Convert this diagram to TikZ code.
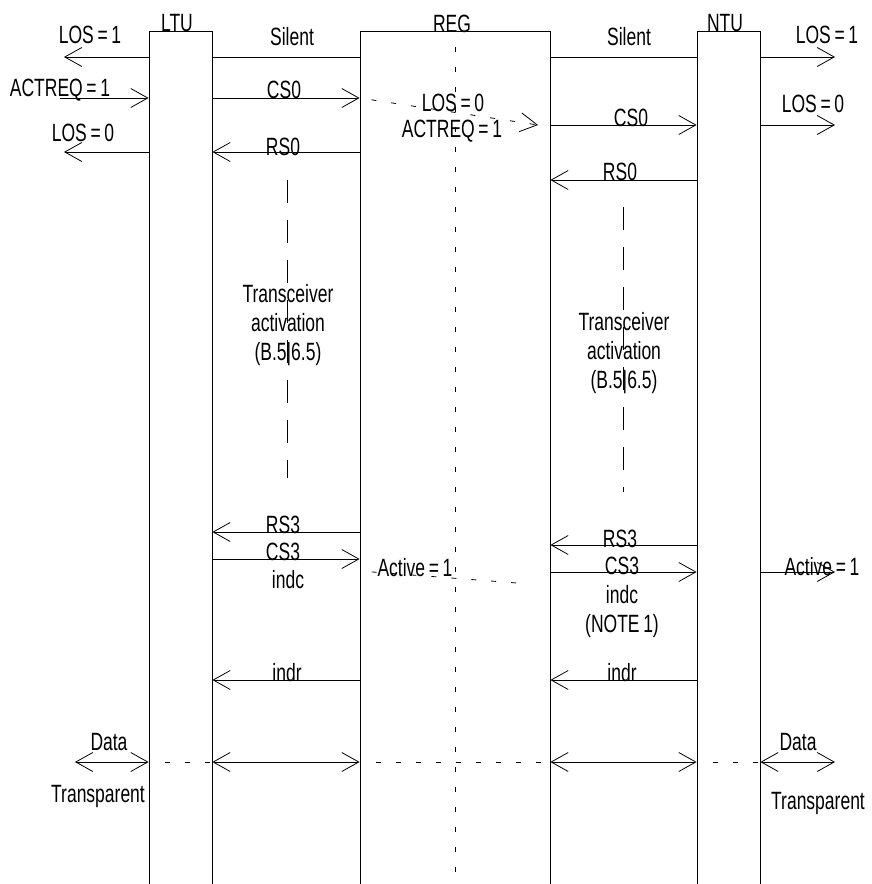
\documentclass[tikz,border=0pt]{standalone}
\usepackage{fontspec}
\setmainfont{Liberation Sans}[FakeStretch=0.7,WordSpace=0.75]
\usetikzlibrary{arrows.meta}

\begin{document}
\begin{tikzpicture}[x=1pt,y=-1pt,
  font=\fontsize{25}{29}\selectfont,
  unit/.style={draw,line width=0.8pt,inner sep=0pt,anchor=north,
    minimum width=63pt,minimum height=900pt},
  lbl/.style={inner sep=0pt,anchor=base,align=center},
  msg/.style={-{Straight Barb[length=17pt,width=19pt]},line width=0.8pt},
  both/.style={{Straight Barb[length=17pt,width=19pt]}-{Straight Barb[length=17pt,width=19pt]},
    line width=0.8pt},
  plain/.style={line width=0.8pt},
  dots/.style={line width=0.8pt,dash pattern=on 5pt off 15pt},
  longdash/.style={line width=0.8pt,dash pattern=on 23pt off 17pt}]
\useasboundingbox (0,0) rectangle (871,884);

\node[unit] (ltu) at (180.5,31) {};
\node[unit,minimum width=190pt] (reg) at (455,31) {};
\node[unit] (ntu) at (728.5,31) {};
\node[lbl] (ltu_t) at (177,31) {LTU};
\node[lbl] (reg_t) at (452,32) {REG};
\node[lbl] (ntu_t) at (725,31) {NTU};

\coordinate (west) at (64,0);
\coordinate (req_in) at (60,0);
\coordinate (east) at (835,0);
\coordinate (data_w) at (75,0);
\coordinate (relay) at (538,125);
\coordinate (act_end) at (530,584);

% start-up
\draw[msg] (ltu.west|-0,57)--(west|-0,57);
\draw[plain] (ltu.east|-0,57)--(reg.west|-0,57);
\draw[plain] (reg.east|-0,57)--(ntu.west|-0,57);
\draw[msg] (ntu.east|-0,57)--(east|-0,57);
\draw[msg] (req_in|-0,98)--(ltu.west|-0,98);
\draw[msg] (ltu.east|-0,98)--(reg.west|-0,98);
\draw[dots,dash phase=8pt,-{Straight Barb[length=17pt,width=19pt]}] (reg.west|-0,98)--(relay);
\draw[msg] (reg.east|-0,125)--(ntu.west|-0,125);
\draw[msg] (ntu.east|-0,125)--(east|-0,125);
\draw[msg] (ltu.west|-0,152)--(west|-0,152);
\draw[msg] (reg.west|-0,152)--(ltu.east|-0,152);
\draw[msg] (ntu.west|-0,180)--(reg.east|-0,180);

\node[lbl] (los1_w) at (90,43) {LOS = 1};
\node[lbl] (silent_w) at (292,45) {Silent};
\node[lbl] (silent_e) at (629,45) {Silent};
\node[lbl] (los1_e) at (827,43) {LOS = 1};
\node[lbl] (actreq_w) at (60,96) {ACTREQ = 1};
\node[lbl] (cs0_w) at (284,98) {CS0};
\node[lbl] (los0_m) at (453,111) {LOS = 0};
\node[lbl] (actreq_m) at (452,137) {ACTREQ = 1};
\node[lbl] (cs0_e) at (631,126) {CS0};
\node[lbl] (los0_e) at (813,112) {LOS = 0};
\node[lbl] (los0_w) at (83,141) {LOS = 0};
\node[lbl] (rs0_w) at (283,155) {RS0};
\node[lbl] (rs0_e) at (620,180) {RS0};

% training
\draw[dots] (reg.north|-0,47)--(reg.north|-0,884);
\draw[longdash] (287,180)--(287,478);
\draw[longdash] (623,207)--(623,492);
\node[lbl] (train_w) at (288,360) {Transceiver\\activation\\(B.5|6.5)};
\node[lbl] (train_e) at (624,388) {Transceiver\\activation\\(B.5|6.5)};

% active
\draw[msg] (reg.west|-0,532)--(ltu.east|-0,532);
\draw[msg] (ltu.east|-0,559)--(reg.west|-0,559);
\draw[dots,dash phase=8pt] (reg.west|-0,571)--(act_end);
\draw[msg] (ntu.west|-0,545)--(reg.east|-0,545);
\draw[msg] (reg.east|-0,572)--(ntu.west|-0,572);
\draw[msg] (ntu.east|-0,572)--(east|-0,572);
\draw[msg] (reg.west|-0,680)--(ltu.east|-0,680);
\draw[msg] (ntu.west|-0,680)--(reg.east|-0,680);

\node[lbl] (rs3_w) at (283,533) {RS3};
\node[lbl] (cs3_w) at (283,560) {CS3};
\node[lbl] (indc_w) at (288,588) {indc};
\node[lbl] (active_m) at (415,576) {Active = 1};
\node[lbl] (rs3_e) at (620,547) {RS3};
\node[lbl] (cs3_e) at (622,574) {CS3};
\node[lbl] (indc_e) at (622,632) {indc\\(NOTE 1)};
\node[lbl] (active_e) at (822,575) {Active = 1};
\node[lbl] (indr_w) at (287,681) {indr};
\node[lbl] (indr_e) at (622,681) {indr};

% transparent
\draw[both] (data_w|-0,762)--(ltu.west|-0,762);
\draw[dots,dash phase=4pt] (ltu.west|-0,762)--(ltu.east|-0,762);
\draw[both] (ltu.east|-0,762)--(reg.west|-0,762);
\draw[dots,dash phase=4pt] (reg.west|-0,762)--(reg.east|-0,762);
\draw[both] (reg.east|-0,762)--(ntu.west|-0,762);
\draw[dots,dash phase=4pt] (ntu.west|-0,762)--(ntu.east|-0,762);
\draw[both] (ntu.east|-0,762)--(east|-0,762);
\node[lbl] (data_w_t) at (109,750) {Data};
\node[lbl] (data_e_t) at (798,750) {Data};
\node[lbl] (transp_w) at (98,802) {Transparent};
\node[lbl] (transp_e) at (818,809) {Transparent};
\end{tikzpicture}
\end{document}
